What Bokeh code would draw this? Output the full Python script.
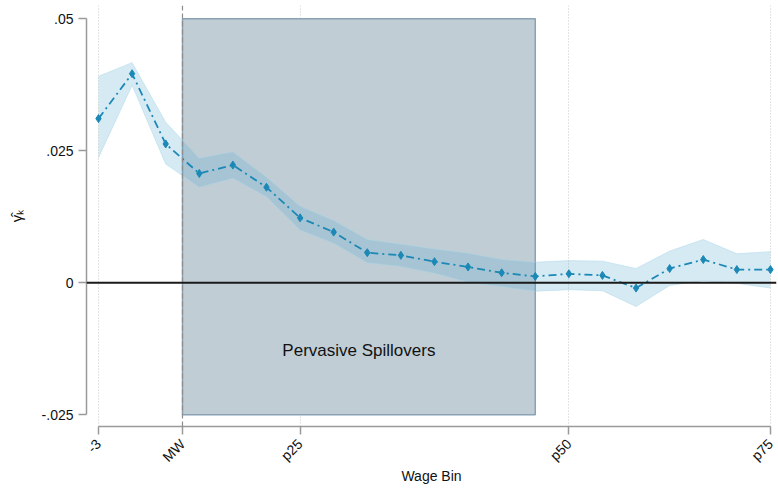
import math
from bokeh.plotting import figure
from bokeh.models import FixedTicker, Span, Label, ColumnDataSource
from bokeh.embed import file_html
from bokeh.resources import INLINE

# ---- data ----
bins = list(range(-3, 18))
gamma = [0.0311, 0.0396, 0.0263, 0.0207, 0.0223, 0.0181, 0.0123, 0.0096, 0.0057,
         0.0052, 0.0040, 0.0030, 0.0019, 0.0012, 0.0017, 0.0014, -0.0010, 0.0027,
         0.0044, 0.0025, 0.0025]
ci_low = [0.0237, 0.0374, 0.0225, 0.0181, 0.0198, 0.0163, 0.0100, 0.0075, 0.0038,
          0.0031, 0.0018, 0.0001, -0.0007, -0.0016, -0.0013, -0.0015, -0.0045, -0.0005,
          0.0004, -0.0001, -0.0010]
ci_high = [0.0391, 0.0417, 0.0304, 0.0236, 0.0248, 0.0200, 0.0145, 0.0118, 0.0082,
           0.0073, 0.0064, 0.0056, 0.0044, 0.0039, 0.0042, 0.0041, 0.0027, 0.0060,
           0.0082, 0.0055, 0.0059]
x_tick_vals = [-3, -0.5, 3, 11, 17]
x_tick_labels = ["-3", "MW", "p25", "p50", "p75"]
y_tick_vals = [-0.025, 0, 0.025, 0.05]
y_tick_labels = ["-.025", "0", ".025", ".05"]
mw_pos = -0.5
shade_start, shade_end = -0.5, 10
shade_bottom, shade_top = -0.025, 0.05
shade_text = "Pervasive Spillovers"
x_title = "Wage Bin"
y_title = "γ̂ₖ"

FONT = "Liberation Sans"
LINE_C = "#1b88b6"

src = ColumnDataSource(dict(x=bins, y=gamma, lo=ci_low, hi=ci_high))

p = figure(width=778, height=489, output_backend="svg", toolbar_location=None,
           x_range=(-3.357, 17.18), y_range=(-0.02722, 0.05252),
           min_border_left=86, min_border_right=2, min_border_top=5, min_border_bottom=63)
p.outline_line_color = None
p.background_fill_color = "white"
p.border_fill_color = "white"

# shaded region
p.quad(left=[shade_start], right=[shade_end], bottom=[shade_bottom], top=[shade_top],
       fill_color="#c1cdd5", line_color="#8aa2b4", line_width=1.5)

# vertical grid
p.xgrid.ticker = FixedTicker(ticks=[v for v in x_tick_vals if v != mw_pos])
p.xgrid.grid_line_color = "#c8c8c8"
p.xgrid.grid_line_dash = "1 2"
p.xgrid.grid_line_width = 1
p.ygrid.grid_line_color = None

p.add_layout(Span(location=mw_pos, dimension="height", line_color="#8c8c8c",
                  line_dash="5 3", line_width=1.2))

# CI band
p.varea(x="x", y1="lo", y2="hi", source=src, fill_color="#50a7cd", fill_alpha=0.24)
p.line(x="x", y="lo", source=src, line_color="#a9d6ea", line_width=0.8, line_alpha=0.6)
p.line(x="x", y="hi", source=src, line_color="#a9d6ea", line_width=0.8, line_alpha=0.6)

# zero line
p.add_layout(Span(location=0, dimension="width", line_color="#1a1a1a", line_width=2))

# estimate line
p.line(x="x", y="y", source=src, line_color=LINE_C, line_width=1.8, line_dash="8 4 2 4")
p.scatter(x="x", y="y", source=src, marker="diamond", size=8, fill_color=LINE_C,
          line_color=LINE_C)

p.add_layout(Label(x=(shade_start + shade_end) / 2, y=-0.0128, text=shade_text,
                   text_font=FONT, text_font_size="17px", text_align="center",
                   text_baseline="middle", text_color="#111111"))

# axes
xa = p.xaxis[0]
xa.ticker = FixedTicker(ticks=x_tick_vals)
xa.major_label_overrides = {v: l for v, l in zip(x_tick_vals, x_tick_labels)}
xa.major_label_orientation = math.pi / 4
xa.bounds = (-3, 17)
xa.axis_label = x_title
ya = p.yaxis[0]
ya.ticker = FixedTicker(ticks=y_tick_vals)
ya.major_label_overrides = {v: l for v, l in zip(y_tick_vals, y_tick_labels)}
ya.major_label_orientation = "horizontal"
ya.bounds = (-0.025, 0.05)
ya.axis_label = y_title

for ax in (xa, ya):
    ax.axis_line_color = "#9a9a9a"
    ax.axis_line_width = 1.5
    ax.major_tick_line_color = "#9a9a9a"
    ax.major_tick_line_width = 1.5
    ax.major_tick_out = 8
    ax.major_tick_in = 0
    ax.minor_tick_line_color = None
    ax.major_label_text_font = FONT
    ax.major_label_text_font_size = "14px"
    ax.major_label_text_color = "#111111"
    ax.axis_label_text_font = FONT
    ax.axis_label_text_font_style = "normal"
    ax.axis_label_text_color = "#111111"
xa.axis_label_text_font_size = "14px"
ya.axis_label_text_font_size = "15px"
xa.major_label_standoff = 7
xa.axis_label_standoff = -5
ya.major_label_standoff = 5
ya.axis_label_standoff = 14

open("out.html", "w").write(file_html(p, INLINE))
